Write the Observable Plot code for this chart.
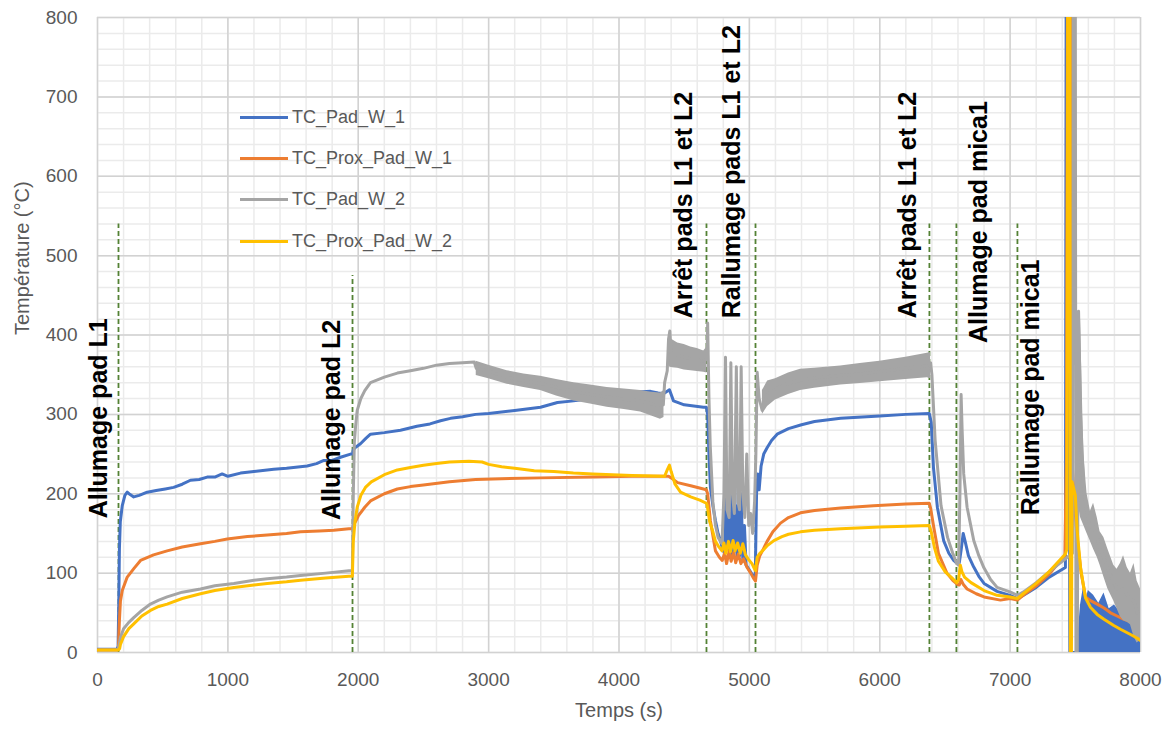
<!DOCTYPE html>
<html>
<head>
<meta charset="utf-8">
<script src="https://cdn.jsdelivr.net/npm/d3@7"></script>
<script src="https://cdn.jsdelivr.net/npm/@observablehq/plot@0.6"></script>
<style>
  html, body { margin: 0; padding: 0; background: #fff; }
  #wrap { position: relative; width: 1167px; height: 729px; overflow: hidden; font-family: "Liberation Sans", Arial, sans-serif; }
  .leg { position: absolute; left: 240px; height: 20px; display: flex; align-items: center; font-size: 18px; color: #595959; }
  .leg span.sw { display: inline-block; width: 48px; height: 3px; margin-right: 4px; }
</style>
</head>
<body>
<div id="wrap"></div>
<script>
// ---------- data ----------
const xTicks = [0, 1000, 2000, 3000, 4000, 5000, 6000, 7000, 8000];
const yTicks = [0, 100, 200, 300, 400, 500, 600, 700, 800];

const seriesNames = ["TC_Pad_W_1", "TC_Prox_Pad_W_1", "TC_Pad_W_2", "TC_Prox_Pad_W_2"];
const seriesColors = ["#4472C4", "#ED7D31", "#A5A5A5", "#FFC000"];

// TC_Pad_W_1  [time s, temperature °C]
const padW1 = [[0,4],[150,4],[158,8],[163,60],[168,130],[175,165],[190,185],[210,198],[228,202],[250,199],[278,196],[320,198],[381,202],[450,204],[520,206],[584,208],[650,212],[713,217],[780,218],[841,221],[900,221],[956,225],[1000,222],[1097,226],[1200,228],[1352,231],[1450,232],[1608,235],[1680,238],[1736,242],[1800,242],[1864,246],[1941,250],[1956,250],[1962,255],[1975,258],[2017,263],[2060,270],[2094,275],[2200,277],[2324,280],[2450,285],[2550,288],[2631,292],[2708,295],[2800,297],[2900,300],[3000,301],[3200,305],[3398,309],[3528,315],[3651,317],[3800,320],[3950,325],[4111,328],[4242,329],[4300,327],[4341,326],[4387,331],[4418,317],[4500,312],[4648,309],[4670,309],[4680,300],[4690,250],[4701,208],[4720,185],[4740,166],[4760,150],[4778,141],[4795,130],[4810,125],[4824,232],[4835,130],[4850,175],[4858,122],[4868,220],[4880,126],[4895,185],[4906,120],[4915,208],[4925,122],[4937,200],[4950,115],[4962,160],[4975,110],[4995,105],[5015,100],[5032,96],[5045,93],[5055,200],[5065,225],[5075,205],[5090,235],[5110,250],[5136,258],[5170,267],[5213,275],[5300,282],[5400,287],[5500,291],[5700,295],[6000,298],[6200,300],[6380,301],[6395,290],[6412,233],[6442,183],[6490,141],[6530,125],[6567,116],[6595,112],[6610,113],[6625,130],[6640,150],[6655,140],[6680,122],[6720,108],[6760,96],[6800,87],[6900,77],[7000,72],[7056,68],[7100,72],[7200,82],[7300,95],[7424,107],[7430,850],[7445,850],[7458,0],[7520,0]];
// noisy part of TC_Pad_W_1 after the peak  [time, low, high]
const padW1Band = [[7520,0,20],[7540,0,60],[7560,0,80],[7580,0,66],[7600,0,78],[7640,0,72],[7680,0,62],[7720,0,75],[7760,0,55],[7800,0,60],[7850,0,50],[7900,0,47],[7950,0,40],[8000,0,28]];

// TC_Prox_Pad_W_1
const proxW1 = [[0,3],[150,3],[160,5],[168,40],[176,65],[190,78],[228,95],[280,106],[330,116],[430,123],[534,128],[650,133],[790,137],[900,140],[995,143],[1150,146],[1302,148],[1450,150],[1557,152],[1700,153],[1812,154],[1928,156],[1955,156],[1962,160],[1979,165],[2000,172],[2050,183],[2094,191],[2200,200],[2300,206],[2400,209],[2500,211],[2700,215],[2900,218],[3100,219],[3400,220],[3800,221],[4100,222],[4380,222],[4400,220],[4450,214],[4550,210],[4670,205],[4680,200],[4701,166],[4740,128],[4770,120],[4792,116],[4810,125],[4825,112],[4845,128],[4860,115],[4880,126],[4895,113],[4915,124],[4935,112],[4955,118],[4983,107],[5010,100],[5034,93],[5047,90],[5060,110],[5080,122],[5100,128],[5136,140],[5180,152],[5239,163],[5300,170],[5392,176],[5500,179],[5700,182],[5952,185],[6200,187],[6380,188],[6390,182],[6412,160],[6450,125],[6515,100],[6560,91],[6594,86],[6610,85],[6622,92],[6640,86],[6670,80],[6740,74],[6800,70],[6926,66],[7000,68],[7056,66],[7100,72],[7200,84],[7300,99],[7420,122],[7432,246],[7440,850],[7465,850],[7475,240],[7510,150],[7545,100],[7578,70],[7620,65],[7668,61],[7720,56],[7770,50],[7820,46],[7870,42],[7920,39],[7976,33],[8000,30]];

// TC_Pad_W_2
const padW2 = [[0,3],[150,3],[160,5],[176,19],[200,30],[240,38],[278,44],[340,53],[406,61],[470,66],[534,70],[650,76],[790,80],[900,84],[1046,87],[1200,91],[1302,93],[1450,95],[1557,97],[1750,100],[1928,103],[1955,103],[1962,200],[1970,265],[1979,284],[1992,305],[2020,320],[2050,330],[2094,340],[2200,347],[2300,352],[2400,355],[2500,358],[2600,362],[2700,364],[2800,365],[2890,366],[2905,358],[3000,354],[3142,347],[3270,342],[3398,339],[3520,334],[3654,329],[3780,325],[3909,322],[4040,319],[4165,317],[4250,313],[4318,311],[4340,312],[4350,340],[4370,355],[4380,395],[4390,405],[4400,377],[4450,374],[4550,370],[4650,367],[4675,370],[4680,415],[4690,320],[4700,260],[4720,190],[4740,160],[4760,145],[4790,137],[4805,200],[4817,372],[4828,180],[4845,170],[4858,365],[4870,200],[4885,175],[4900,360],[4912,190],[4925,180],[4937,360],[4950,200],[4965,170],[4980,250],[4995,160],[5010,175],[5025,150],[5040,190],[5050,250],[5060,353],[5075,320],[5098,305],[5120,318],[5140,326],[5200,332],[5300,339],[5392,343],[5500,346],[5700,349],[5850,351],[6000,354],[6200,358],[6365,361],[6390,365],[6400,350],[6425,267],[6470,185],[6520,145],[6560,125],[6590,112],[6605,110],[6615,200],[6624,325],[6632,280],[6644,225],[6670,183],[6721,141],[6760,122],[6798,107],[6850,92],[6900,82],[7003,76],[7056,72],[7100,76],[7200,88],[7300,102],[7400,115],[7478,125],[7483,850],[7500,850],[7505,-10],[7515,-10],[7525,430],[7540,300],[7565,205],[7590,175],[7616,158],[7640,158],[7668,145],[7690,130],[7719,120],[7750,105],[7795,88],[7820,80],[7846,78],[7870,80],[7898,72],[7923,68],[7950,65],[7974,50],[8000,48]];
// noisy parts of TC_Pad_W_2  [time, low, high]
const padW2BandA = [[2905,349,367],[3000,345,362],[3142,338,355],[3270,334,351],[3398,330,348],[3520,323,344],[3654,317,340],[3780,313,337],[3909,309,334],[4040,306,332],[4165,303,330],[4250,298,328],[4318,294,327],[4345,296,330]];
const padW2BandB = [[4385,360,405],[4400,359,395],[4450,358,390],[4500,356,388],[4550,355,385],[4600,354,383],[4650,353,380],[4675,352,385]];
const padW2BandC = [[5100,300,330],[5140,310,342],[5200,318,345],[5300,325,352],[5392,330,357],[5500,333,358],[5700,337,361],[5850,339,364],[6000,341,367],[6200,344,372],[6365,346,377],[6390,345,378]];
const padW2BandD = [[7530,180,430],[7540,170,420],[7565,160,250],[7590,150,200],[7616,140,178],[7640,130,188],[7668,120,170],[7690,110,152],[7719,95,145],[7750,80,130],[7795,65,110],[7820,55,105],[7846,45,112],[7870,40,122],[7898,38,107],[7923,35,100],[7950,20,112],[7974,12,90],[8000,15,80]];

// TC_Prox_Pad_W_2
const proxW2 = [[0,3],[150,3],[160,3],[170,5],[176,10],[200,20],[240,30],[278,36],[340,46],[406,53],[470,58],[534,61],[650,68],[790,74],[900,78],[1046,82],[1200,85],[1302,87],[1450,89],[1557,91],[1750,94],[1928,96],[1955,96],[1962,140],[1975,165],[1992,183],[2020,198],[2055,208],[2100,215],[2200,224],[2300,230],[2400,233],[2500,236],[2600,238],[2700,240],[2850,241],[2950,240],[3000,237],[3100,234],[3200,232],[3350,229],[3500,228],[3650,226],[3800,225],[4100,223],[4350,222],[4370,230],[4387,236],[4400,228],[4430,212],[4472,202],[4550,196],[4620,192],[4670,188],[4676,186],[4695,165],[4715,155],[4740,140],[4766,133],[4790,128],[4805,138],[4820,125],[4840,140],[4855,127],[4875,141],[4890,128],[4910,138],[4930,125],[4950,137],[4970,123],[4990,118],[5020,112],[5040,105],[5047,103],[5060,120],[5080,125],[5100,128],[5140,135],[5188,141],[5250,146],[5300,149],[5392,152],[5500,154],[5700,156],[6000,158],[6200,159],[6380,160],[6395,152],[6420,132],[6450,115],[6500,102],[6560,93],[6590,88],[6605,92],[6618,110],[6630,102],[6650,95],[6700,88],[6800,78],[6900,72],[7000,70],[7056,68],[7100,74],[7200,87],[7300,102],[7424,124],[7435,130],[7442,850],[7458,850],[7462,-10],[7470,-10],[7475,215],[7490,205],[7500,198],[7514,154],[7540,107],[7578,69],[7616,57],[7668,48],[7720,42],[7795,34],[7850,29],[7920,23],[7976,18],[8000,15]];

// events: dashed markers and their labels
const eventT     = [161, 1956, 4671, 5047, 6381, 6588, 7056];
const eventTop   = [540, 475, 540, 540, 540, 540, 540];
const eventLabel = ["Allumage pad L1", "Allumage pad L2", "Arrêt pads L1 et L2", "Rallumage pads L1 et L2", "Arrêt pads L1 et L2", "Allumage pad mica1", "Rallumage pad mica1"];
const labelT     = [10, 1800, 4495, 4870, 6215, 6760, 7160];
const labelY     = [169, 167, 421, 421, 421, 390, 173];

// ---------- build tables ----------
const rows = (pairs, name) => pairs.map(([t, v]) => ({t, v, name}));
const band = (trip, seg) => trip.map(([t, lo, hi]) => ({t, lo, hi, seg}));
const events = eventT.map((t, i) => ({t, top: eventTop[i], label: eventLabel[i], lt: labelT[i], ly: labelY[i]}));
const grayBands = [...band(padW2BandA, "A"), ...band(padW2BandB, "B"), ...band(padW2BandC, "C"), ...band(padW2BandD, "D")];

const font = "'Liberation Sans', Arial, sans-serif";
const lw = 3;

const chart = Plot.plot({
  width: 1167,
  height: 729,
  marginLeft: 97,
  marginRight: 27,
  marginTop: 17,
  marginBottom: 77,
  style: {fontFamily: font, fontSize: "19px", color: "#595959", background: "white"},
  x: {domain: [0, 8000]},
  y: {domain: [0, 800]},
  marks: [
    Plot.gridX(d3.range(0, 8001, 200), {stroke: "#ebebeb", strokeOpacity: 1, strokeWidth: 1.5}),
    Plot.gridY(d3.range(0, 801, 20), {stroke: "#ebebeb", strokeOpacity: 1, strokeWidth: 1.5}),
    Plot.gridX(xTicks, {stroke: "#d2d2d2", strokeOpacity: 1, strokeWidth: 1.5}),
    Plot.gridY(yTicks, {stroke: "#d2d2d2", strokeOpacity: 1, strokeWidth: 1.5}),
    Plot.axisX(xTicks, {tickSize: 0, tickPadding: 20, label: null, tickFormat: "d", fill: "#595959"}),
    Plot.axisY(yTicks, {tickSize: 0, tickPadding: 20, label: null, tickFormat: "d", fill: "#595959"}),
    Plot.text(["Température (°C)"], {frameAnchor: "left", dx: -75, rotate: -90, fontSize: 20, fill: "#595959"}),
    Plot.text(["Temps (s)"], {frameAnchor: "bottom", dy: 64, fontSize: 20, fill: "#595959"}),
    Plot.ruleX(events, {x: "t", y1: 0, y2: "top", stroke: "#548235", strokeWidth: 1.8, strokeDasharray: "5,3"}),
    Plot.areaY(band(padW1Band, "B1"), {x: "t", y1: "lo", y2: "hi", fill: seriesColors[0], clip: true}),
    Plot.line(rows(padW1, seriesNames[0]), {x: "t", y: "v", stroke: seriesColors[0], strokeWidth: lw, clip: true}),
    Plot.line(rows(proxW1, seriesNames[1]), {x: "t", y: "v", stroke: seriesColors[1], strokeWidth: lw, clip: true}),
    Plot.areaY(grayBands, {x: "t", y1: "lo", y2: "hi", z: "seg", fill: seriesColors[2], clip: true}),
    Plot.line(rows(padW2, seriesNames[2]), {x: "t", y: "v", stroke: seriesColors[2], strokeWidth: lw, clip: true}),
    Plot.line(rows(proxW2, seriesNames[3]), {x: "t", y: "v", stroke: seriesColors[3], strokeWidth: lw, clip: true}),
    Plot.text(events, {x: "lt", y: "ly", text: "label", rotate: -90, textAnchor: "start", fontSize: 25, fontWeight: "bold", fill: "black", fontFamily: font})
  ]
});

const wrap = document.getElementById("wrap");
wrap.appendChild(chart);

// legend (inside the plot, upper left)
const legendTops = [107, 148, 189, 231];
seriesNames.forEach((name, i) => {
  const d = document.createElement("div");
  d.className = "leg";
  d.style.top = legendTops[i] + "px";
  d.innerHTML = `<span class="sw" style="background:${seriesColors[i]}"></span>${name}`;
  wrap.appendChild(d);
});
</script>
</body>
</html>
